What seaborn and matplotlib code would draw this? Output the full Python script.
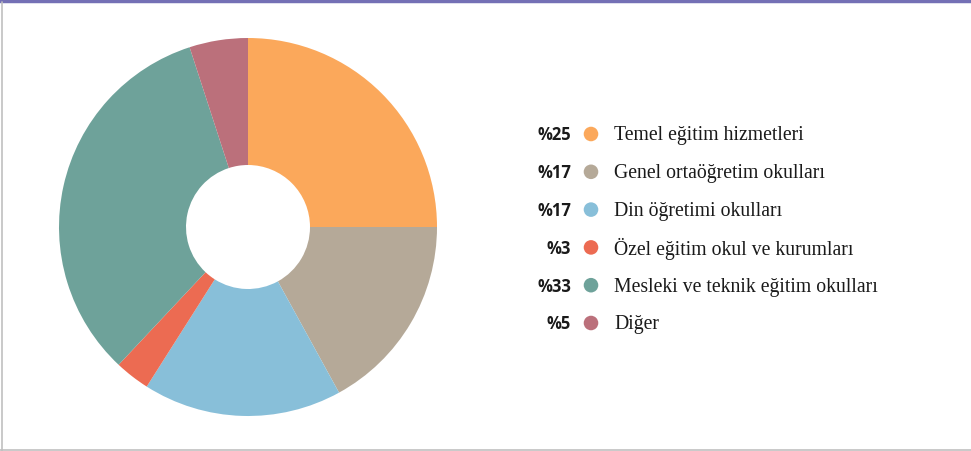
import matplotlib
matplotlib.use("Agg")
import matplotlib.pyplot as plt
import seaborn as sns
from matplotlib.lines import Line2D

# Data
categories = ["Temel eğitim hizmetleri", "Genel ortaöğretim okulları",
              "Din öğretimi okulları", "Özel eğitim okul ve kurumları",
              "Mesleki ve teknik eğitim okulları", "Diğer"]
shares = [25, 17, 17, 3, 33, 5]
colors = ["#FBA85B", "#B5A998", "#88BFD9", "#EC6B52", "#6EA29A", "#BB707B"]

sns.set_theme(style="white")
palette = sns.color_palette(colors)

W, H = 971, 452
fig = plt.figure(figsize=(W / 100, H / 100), dpi=100)
fig.patch.set_facecolor("white")

# donut
cx, cy, r = 248, 228, 189
ax = fig.add_axes([(cx - r) / W, (H - cy - r) / H, 2 * r / W, 2 * r / H])
ax.pie(shares, colors=palette, startangle=90, counterclock=False,
       radius=1, wedgeprops=dict(width=1 - 62 / 189, linewidth=0))
ax.set_xlim(-1, 1)
ax.set_ylim(-1, 1)
ax.set_aspect("auto")
ax.axis("off")

# legend
lax = fig.add_axes([0, 0, 1, 1])
lax.set_xlim(0, W)
lax.set_ylim(H, 0)
lax.axis("off")
y0, dy = 135, 37.8
for i, (cat, val) in enumerate(zip(categories, shares)):
    y = y0 + i * dy
    lax.text(571, y + 0.5, f"%{val}", ha="right", va="center", fontsize=12,
             fontweight="bold", family="Open Sans", color="#1a1a1a")
    lax.scatter([591], [y], s=110, color=palette[i], edgecolors="none")
    lax.text(614, y + 1, cat, ha="left", va="center", fontsize=14.2,
             family="Liberation Serif", color="#1a1a1a")

# frame
fig.add_artist(Line2D([0, 1], [1 - 1.5 / H, 1 - 1.5 / H], color="#7470B5", lw=3.2))
fig.add_artist(Line2D([1.5 / W, 1.5 / W], [0, 1 - 3 / H], color="#C0C0C0", lw=1.2))
fig.add_artist(Line2D([0, 1], [1.5 / H, 1.5 / H], color="#C0C0C0", lw=1.2))

fig.savefig("out.png", dpi=100)
